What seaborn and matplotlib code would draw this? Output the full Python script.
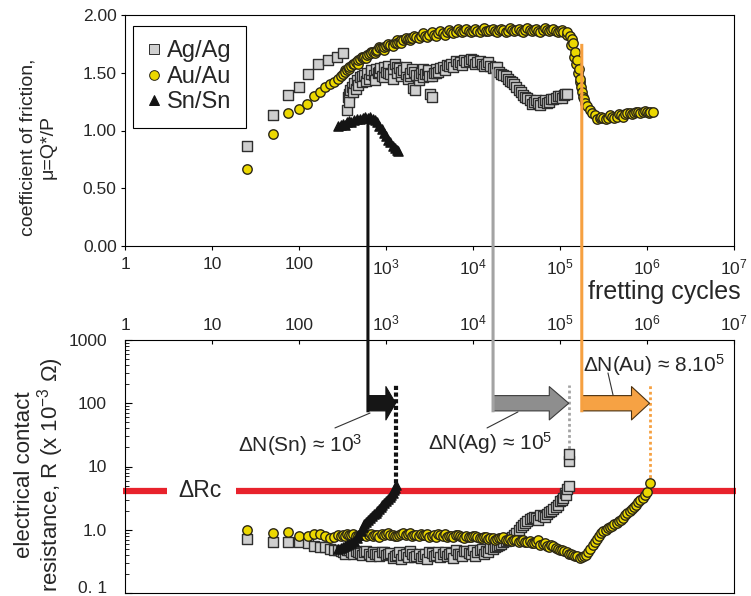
import matplotlib
matplotlib.use("Agg")
import matplotlib.pyplot as plt
import pandas as pd
import seaborn as sns
from matplotlib.patches import ConnectionPatch, FancyArrowPatch
from matplotlib.lines import Line2D
from matplotlib.ticker import FixedLocator, FixedFormatter, LogLocator, NullLocator, NullFormatter

# ---------------- data ----------------
pairs = ["Ag/Ag", "Au/Au", "Sn/Sn"]

# coefficient of friction vs fretting cycles (two interleaved acquisition passes per couple)
ag_mu_cycles = [25, 50, 75, 100, 126, 167, 218, 270, 323, 355, 365, 375, 390, 410, 430, 450, 470, 500,
                530, 560, 600, 630, 680, 720, 760, 800, 850, 900, 950, 1000, 1060, 1120, 1190, 1260,
                1340, 1410, 1500, 1580, 1680, 1780, 1890, 2000, 2050, 2150, 2240, 2370, 2510, 2660,
                2820, 3000, 3160, 3200, 3400, 3550, 3760, 3980, 4470, 5010, 5620, 6310, 7080, 7940,
                8910, 10000, 11200, 12600, 14100, 15800, 17800, 20000, 22400, 25100, 28200, 31600,
                35500, 39800, 44700, 50100, 56200, 63100, 70800, 79400, 89100, 100000, 112000, 120000]
ag_mu = [0.87, 1.13, 1.31, 1.38, 1.49, 1.58, 1.61, 1.64, 1.67, 1.18, 1.29, 1.32, 1.35, 1.38, 1.41, 1.36,
         1.44, 1.46, 1.42, 1.48, 1.50, 1.45, 1.52, 1.48, 1.53, 1.50, 1.54, 1.47, 1.55, 1.51, 1.56, 1.49,
         1.53, 1.58, 1.50, 1.54, 1.47, 1.52, 1.49, 1.45, 1.50, 1.53, 1.37, 1.35, 1.48, 1.44, 1.50, 1.46,
         1.49, 1.52, 1.47, 1.32, 1.29, 1.50, 1.53, 1.51, 1.55, 1.57, 1.58, 1.60, 1.59, 1.61, 1.60, 1.61,
         1.59, 1.58, 1.58, 1.56, 1.55, 1.51, 1.48, 1.45, 1.42, 1.38, 1.33, 1.29, 1.26, 1.25, 1.24, 1.25,
         1.24, 1.27, 1.28, 1.30, 1.31, 1.32]
ag_mu_cycles_b = [376, 422, 473, 531, 596, 668, 750, 841, 944, 1060, 1190, 1330, 1500, 1680, 1880, 2110,
                  2370, 2660, 2990, 3350, 3760, 4220, 4730, 5310, 5960, 6680, 7500, 8410, 9440, 10600,
                  11900, 13300, 15000, 16800, 18800, 21100, 23700, 26600, 29900, 33500, 37600, 42200,
                  47300, 53100, 59600, 66800, 75000, 84100, 94400, 106000, 115000]
ag_mu_b = [1.25, 1.33, 1.39, 1.47, 1.43, 1.49, 1.44, 1.51, 1.46, 1.50, 1.45, 1.55, 1.51, 1.55, 1.47, 1.51,
           1.48, 1.53, 1.49, 1.47, 1.50, 1.54, 1.52, 1.56, 1.55, 1.58, 1.57, 1.59, 1.62, 1.58, 1.60, 1.56,
           1.59, 1.54, 1.55, 1.49, 1.47, 1.43, 1.40, 1.35, 1.31, 1.28, 1.23, 1.26, 1.22, 1.26, 1.25, 1.27,
           1.30, 1.28, 1.32]

au_mu_cycles = [25, 50, 75, 100, 125, 150, 175, 200, 225, 250, 280, 300, 320, 340, 355, 380, 400, 430,
                450, 480, 500, 540, 560, 600, 630, 680, 710, 760, 790, 850, 890, 950, 1000, 1060, 1120,
                1190, 1260, 1340, 1410, 1500, 1580, 1680, 1780, 1890, 2000, 2240, 2510, 2820, 3160,
                3550, 3980, 4470, 5010, 5620, 6310, 7080, 7940, 8910, 10000, 11200, 12600, 14100, 15800,
                17800, 20000, 22400, 25100, 28200, 31600, 35500, 39800, 44700, 50100, 56200, 63100,
                70800, 79400, 89100, 100000, 107000, 120000, 132000, 138000, 141000, 150000, 158000,
                166000, 170000, 174000, 182000, 195000, 219000, 251000, 288000, 316000, 355000, 398000,
                447000, 501000, 562000, 631000, 708000, 794000, 891000, 1000000, 1070000, 1170000]
au_mu = [0.67, 0.97, 1.15, 1.19, 1.23, 1.30, 1.33, 1.38, 1.40, 1.42, 1.45, 1.47, 1.49, 1.51, 1.52, 1.55,
         1.56, 1.58, 1.59, 1.61, 1.62, 1.63, 1.64, 1.65, 1.66, 1.67, 1.68, 1.69, 1.70, 1.71, 1.71, 1.72,
         1.73, 1.74, 1.74, 1.75, 1.76, 1.76, 1.77, 1.78, 1.78, 1.79, 1.79, 1.80, 1.80, 1.81, 1.82, 1.82,
         1.83, 1.83, 1.84, 1.84, 1.85, 1.85, 1.85, 1.86, 1.86, 1.86, 1.86, 1.86, 1.87, 1.86, 1.87, 1.86,
         1.87, 1.87, 1.86, 1.87, 1.87, 1.86, 1.87, 1.87, 1.87, 1.86, 1.87, 1.87, 1.87, 1.86, 1.86, 1.85,
         1.85, 1.82, 1.79, 1.76, 1.68, 1.61, 1.53, 1.45, 1.38, 1.29, 1.24, 1.18, 1.13, 1.11, 1.11, 1.11,
         1.12, 1.12, 1.13, 1.14, 1.15, 1.15, 1.16, 1.16, 1.16, 1.16, 1.16]
au_mu_cycles_b = [335, 376, 422, 473, 531, 596, 668, 750, 841, 944, 1060, 1190, 1330, 1500, 1680, 1880,
                  2110, 2370, 2660, 2990, 3350, 3760, 4220, 4730, 5310, 5960, 6680, 7500, 8410, 9440,
                  10600, 11900, 13300, 15000, 16800, 18800, 21100, 23700, 26600, 29900, 33500, 37600,
                  42200, 47300, 53100, 59600, 66800, 75000, 84100, 94400, 106000, 119000, 135000,
                  145000, 154000, 162000, 168000, 178000, 188000, 205000, 235000, 266000, 299000,
                  335000, 376000, 422000, 473000, 531000, 596000, 668000, 750000, 841000, 944000,
                  1060000]
au_mu_b = [1.52, 1.53, 1.58, 1.58, 1.64, 1.63, 1.68, 1.67, 1.72, 1.70, 1.75, 1.73, 1.78, 1.76, 1.80, 1.78,
           1.82, 1.80, 1.84, 1.81, 1.85, 1.82, 1.86, 1.83, 1.87, 1.84, 1.88, 1.85, 1.88, 1.85, 1.88, 1.85,
           1.89, 1.86, 1.88, 1.85, 1.88, 1.85, 1.89, 1.86, 1.88, 1.85, 1.89, 1.86, 1.88, 1.85, 1.89, 1.86,
           1.88, 1.85, 1.87, 1.83, 1.74, 1.64, 1.58, 1.50, 1.42, 1.33, 1.27, 1.21, 1.15, 1.10, 1.12, 1.10,
           1.13, 1.11, 1.14, 1.12, 1.15, 1.14, 1.16, 1.15, 1.17, 1.15]

sn_mu_cycles = [280, 300, 320, 340, 360, 380, 400, 430, 460, 500, 540, 580, 620, 660, 700, 740, 790,
                840, 890, 950, 1000, 1060, 1120, 1190, 1260, 1330, 1370]
sn_mu = [1.04, 1.05, 1.06, 1.05, 1.07, 1.08, 1.07, 1.09, 1.10, 1.10, 1.11, 1.12, 1.11, 1.12, 1.10, 1.09,
         1.07, 1.04, 1.01, 0.98, 0.95, 0.92, 0.90, 0.87, 0.85, 0.83, 0.82]

# electrical contact resistance (x 10^-3 ohm) vs fretting cycles
ag_r_cycles = [25, 50, 75, 100, 126, 150, 175, 200, 225, 250, 280, 300, 320, 355, 400, 450, 500, 560,
               630, 710, 790, 890, 1000, 1120, 1260, 1410, 1580, 1780, 2000, 2240, 2510, 2820, 3160,
               3550, 3980, 4470, 5010, 5620, 6310, 7080, 7940, 8910, 10000, 11200, 12600, 14100, 15800,
               17800, 20000, 22400, 25100, 28200, 31600, 35500, 39800, 44700, 50100, 56200, 63100,
               70800, 79400, 89100, 100000, 107000, 115000, 120000, 126000, 126000, 126000]
ag_r = [0.72, 0.63, 0.63, 0.63, 0.62, 0.56, 0.54, 0.53, 0.50, 0.48, 0.48, 0.46, 0.45, 0.47, 0.44, 0.46,
        0.43, 0.45, 0.42, 0.44, 0.41, 0.44, 0.40, 0.43, 0.39, 0.44, 0.40, 0.37, 0.42, 0.38, 0.36, 0.41,
        0.44, 0.39, 0.45, 0.41, 0.38, 0.43, 0.47, 0.42, 0.46, 0.43, 0.48, 0.44, 0.49, 0.46, 0.51, 0.54,
        0.58, 0.63, 0.70, 0.78, 0.90, 1.10, 1.30, 1.50, 1.60, 1.45, 1.65, 1.80, 2.00, 2.30, 2.80, 3.20,
        3.80, 4.40, 5.00, 12.0, 16.0]
ag_r_cycles_b = [335, 376, 422, 473, 531, 596, 668, 750, 841, 944, 1060, 1190, 1330, 1500, 1680, 1880,
                 2110, 2370, 2660, 2990, 3350, 3760, 4220, 4730, 5310, 5960, 6680, 7500, 8410, 9440,
                 10600, 11900, 13300, 15000, 16800, 18800, 21100, 23700, 26600, 29900, 33500, 37600,
                 42200, 47300, 53100, 59600, 66800, 75000, 84100, 94400, 106000, 118000]
ag_r_b = [0.42, 0.48, 0.41, 0.44, 0.40, 0.46, 0.39, 0.42, 0.38, 0.45, 0.41, 0.36, 0.40, 0.35, 0.41, 0.46,
          0.37, 0.42, 0.39, 0.34, 0.43, 0.40, 0.37, 0.45, 0.42, 0.36, 0.41, 0.38, 0.46, 0.42, 0.39, 0.47,
          0.41, 0.45, 0.50, 0.55, 0.60, 0.66, 0.74, 0.84, 1.00, 1.20, 1.40, 1.55, 1.52, 1.70, 1.60, 1.90,
          2.10, 2.50, 3.00, 3.60]

au_r_cycles = [25, 50, 75, 100, 126, 150, 175, 200, 225, 250, 280, 300, 320, 355, 400, 450, 500, 560,
               630, 710, 790, 890, 1000, 1120, 1260, 1410, 1580, 1780, 2000, 2240, 2510, 2820, 3160,
               3550, 3980, 4470, 5010, 5620, 6310, 7080, 7940, 8910, 10000, 11200, 12600, 14100, 15800,
               17800, 20000, 22400, 25100, 28200, 31600, 35500, 39800, 44700, 50100, 56200, 63100,
               70800, 79400, 89100, 100000, 112000, 126000, 141000, 158000, 178000, 200000, 224000,
               251000, 282000, 316000, 355000, 398000, 447000, 501000, 562000, 631000, 708000, 794000,
               891000, 1000000, 1070000]
au_r = [1.00, 0.89, 0.91, 0.80, 0.80, 0.86, 0.86, 0.80, 0.75, 0.78, 0.83, 0.80, 0.82, 0.85, 0.83, 0.80,
        0.82, 0.86, 0.84, 0.80, 0.83, 0.87, 0.85, 0.82, 0.80, 0.84, 0.88, 0.85, 0.80, 0.83, 0.86, 0.82,
        0.78, 0.82, 0.85, 0.80, 0.76, 0.80, 0.84, 0.79, 0.75, 0.78, 0.80, 0.76, 0.73, 0.77, 0.74, 0.70,
        0.73, 0.76, 0.70, 0.67, 0.70, 0.66, 0.63, 0.66, 0.62, 0.70, 0.60, 0.56, 0.58, 0.52, 0.48, 0.46,
        0.42, 0.40, 0.38, 0.37, 0.40, 0.50, 0.65, 0.80, 0.95, 1.05, 1.15, 1.30, 1.45, 1.70, 2.00, 2.30,
        2.70, 3.20, 3.90, 5.50]
au_r_cycles_b = [335, 376, 422, 473, 531, 596, 668, 750, 841, 944, 1060, 1190, 1330, 1500, 1680, 1880,
                 2110, 2370, 2660, 2990, 3350, 3760, 4220, 4730, 5310, 5960, 6680, 7500, 8410, 9440,
                 10600, 11900, 13300, 15000, 16800, 18800, 21100, 23700, 26600, 29900, 33500, 37600,
                 42200, 47300, 53100, 59600, 66800, 75000, 84100, 94400, 106000, 119000, 133000,
                 150000, 168000, 188000, 211000, 237000, 266000, 299000, 335000, 376000, 422000,
                 473000, 531000, 596000, 668000, 750000, 841000, 944000]
au_r_b = [0.79, 0.84, 0.86, 0.79, 0.84, 0.81, 0.87, 0.82, 0.78, 0.84, 0.88, 0.83, 0.79, 0.86, 0.82, 0.88,
          0.84, 0.79, 0.83, 0.87, 0.81, 0.77, 0.82, 0.86, 0.81, 0.78, 0.82, 0.77, 0.81, 0.76, 0.79, 0.75,
          0.78, 0.72, 0.75, 0.71, 0.74, 0.69, 0.72, 0.68, 0.65, 0.68, 0.64, 0.61, 0.65, 0.58, 0.62, 0.54,
          0.56, 0.50, 0.47, 0.44, 0.41, 0.39, 0.36, 0.38, 0.44, 0.57, 0.72, 0.88, 1.00, 1.10, 1.22, 1.38,
          1.55, 1.85, 2.15, 2.50, 2.95, 3.50]

sn_r_cycles = [280, 300, 320, 340, 360, 380, 400, 430, 460, 480, 510, 540, 560, 590, 620, 660, 690, 720,
               760, 790, 830, 870, 910, 950, 1000, 1050, 1100, 1150, 1200, 1230, 1260, 1290]
sn_r = [0.50, 0.51, 0.53, 0.55, 0.57, 0.60, 0.62, 0.67, 0.73, 0.82, 0.95, 1.10, 1.25, 1.35, 1.42, 1.55,
        1.65, 1.75, 1.85, 1.95, 2.10, 2.30, 2.50, 2.65, 2.85, 3.05, 3.30, 3.55, 3.85, 4.20, 4.60, 5.10]

# critical resistance threshold and the endurance arrows
delta_rc = 4.1
arrow_level = 100
arrow_start = {"Sn/Sn": 620, "Ag/Ag": 17000, "Au/Au": 178000}
arrow_end = {"Sn/Sn": 1290, "Ag/Ag": 126000, "Au/Au": 1070000}
arrow_from_mu = {"Sn/Sn": 1.11, "Ag/Ag": 1.53, "Au/Au": 1.75}
failure_r = {"Sn/Sn": 4.3, "Ag/Ag": 16.0, "Au/Au": 5.5}
arrow_labels = {"Sn/Sn": r"ΔN(Sn) ≈ 10$^3$", "Ag/Ag": r"ΔN(Ag) ≈ 10$^5$", "Au/Au": r"ΔN(Au) ≈ 8.10$^5$"}

decade_ticks = [1, 10, 100, 1e3, 1e4, 1e5, 1e6, 1e7]
decade_labels = ["1", "10", "100", r"10$^3$", r"10$^4$", r"10$^5$", r"10$^6$", r"10$^7$"]
mu_ticks = [0.0, 0.5, 1.0, 1.5, 2.0]
mu_labels = ["0.00", "0.50", "1.00", "1.50", "2.00"]
r_ticks = [0.1, 1, 10, 100, 1000]
r_labels = ["0. 1", "1.0", "10", "100", "1000"]

# ---------------- style ----------------
sns.set_theme(style="white")
plt.rcParams["font.family"] = ["Liberation Sans", "DejaVu Sans"]
plt.rcParams["mathtext.fontset"] = "custom"
plt.rcParams["mathtext.rm"] = "Liberation Sans"
plt.rcParams["mathtext.it"] = "Liberation Sans:italic"
plt.rcParams["mathtext.bf"] = "Liberation Sans:bold"

txt = "#262626"
look = {
    "Ag/Ag": dict(marker="s", color="#cfcfcf", edgecolor="#2e2e2e", s=44, zorder=3),
    "Au/Au": dict(marker="o", color="#ecd800", edgecolor="#2b2717", s=46, zorder=4),
    "Sn/Sn": dict(marker="^", color="#141414", edgecolor="#141414", s=44, zorder=5),
}
arrow_fill = {"Sn/Sn": "#161616", "Ag/Ag": "#8e8e8e", "Au/Au": "#f6a244"}
arrow_edge = {"Sn/Sn": "#111111", "Ag/Ag": "#3c3c3c", "Au/Au": "#4a3010"}
link_color = {"Sn/Sn": "#111111", "Ag/Ag": "#a3a3a3", "Au/Au": "#f6a040"}
head_len = {"Sn/Sn": 7, "Ag/Ag": 14, "Au/Au": 13}


def frame_of(cycles, values, pair):
    return pd.DataFrame({"cycles": cycles, "value": values, "pair": pair})


mu_df = pd.concat([
    frame_of(ag_mu_cycles, ag_mu, "Ag/Ag"), frame_of(ag_mu_cycles_b, ag_mu_b, "Ag/Ag"),
    frame_of(au_mu_cycles, au_mu, "Au/Au"), frame_of(au_mu_cycles_b, au_mu_b, "Au/Au"),
    frame_of(sn_mu_cycles, sn_mu, "Sn/Sn"),
]).sort_values("cycles", kind="stable")
r_df = pd.concat([
    frame_of(ag_r_cycles, ag_r, "Ag/Ag"), frame_of(ag_r_cycles_b, ag_r_b, "Ag/Ag"),
    frame_of(au_r_cycles, au_r, "Au/Au"), frame_of(au_r_cycles_b, au_r_b, "Au/Au"),
    frame_of(sn_r_cycles, sn_r, "Sn/Sn"),
]).sort_values("cycles", kind="stable")

W, H = 751, 596
fig = plt.figure(figsize=(W / 100, H / 100), dpi=100)


def frame(l, t, r, b):
    return [l / W, 1 - b / H, (r - l) / W, (b - t) / H]


ax_mu = fig.add_axes(frame(125, 15, 734, 246))
ax_r = fig.add_axes(frame(125, 340, 734, 593))

for ax, df in ((ax_mu, mu_df), (ax_r, r_df)):
    for p in pairs:
        st = look[p]
        sns.scatterplot(data=df[df["pair"] == p], x="cycles", y="value", ax=ax,
                        marker=st["marker"], color=st["color"], edgecolor=st["edgecolor"],
                        s=st["s"], linewidth=1.0, zorder=st["zorder"], legend=False)
    ax.set_xscale("log")
    ax.set_xlim(1, 1e7)
    ax.set_xlabel("")
    ax.set_ylabel("")
    for sp in ax.spines.values():
        sp.set_visible(True)
        sp.set_color("black")
        sp.set_linewidth(0.8)

# friction panel
ax_mu.set_ylim(0, 2)
ax_mu.xaxis.set_major_locator(FixedLocator(decade_ticks))
ax_mu.xaxis.set_major_formatter(FixedFormatter(decade_labels))
ax_mu.xaxis.set_minor_locator(NullLocator())
ax_mu.yaxis.set_major_locator(FixedLocator(mu_ticks))
ax_mu.yaxis.set_major_formatter(FixedFormatter(mu_labels))
ax_mu.tick_params(axis="both", which="major", direction="out", length=3, width=0.8,
                  color="black", labelsize=12.5, labelcolor=txt, bottom=True, left=True)
ax_mu.tick_params(axis="x", pad=5)
ax_mu.tick_params(axis="y", pad=3)

leg_handles = [Line2D([], [], ls="", marker=look[p]["marker"], mfc=look[p]["color"],
                      mec=look[p]["edgecolor"], mew=0.7, ms=7) for p in pairs]
leg = ax_mu.legend(leg_handles, pairs, loc="upper left", bbox_to_anchor=(0.013, 0.952),
                   fontsize=17, frameon=True, fancybox=False, edgecolor="black", framealpha=1,
                   handlelength=0.6, handletextpad=0.25, borderpad=0.6, labelspacing=0.15,
                   borderaxespad=0)
leg.get_frame().set_linewidth(0.8)
for t in leg.get_texts():
    t.set_color(txt)

# resistance panel
ax_r.set_yscale("log")
ax_r.set_ylim(0.1, 1000)
ax_r.xaxis.tick_top()
ax_r.xaxis.set_major_locator(FixedLocator(decade_ticks))
ax_r.xaxis.set_major_formatter(FixedFormatter(decade_labels))
ax_r.xaxis.set_minor_locator(NullLocator())
ax_r.yaxis.set_major_locator(FixedLocator(r_ticks))
ax_r.yaxis.set_major_formatter(FixedFormatter(r_labels))
ax_r.yaxis.set_minor_locator(LogLocator(base=10, subs=[2, 3, 4, 5, 6, 7, 8, 9]))
ax_r.yaxis.set_minor_formatter(NullFormatter())
ax_r.tick_params(axis="x", which="major", direction="in", length=3, width=0.8, color="black",
                 top=True, bottom=False, labeltop=True, labelbottom=False, labelsize=12.5,
                 labelcolor=txt, pad=5)
ax_r.tick_params(axis="y", which="major", direction="in", length=5, width=0.8, color="black",
                 left=True, labelsize=12.5, labelcolor=txt, pad=13)
ax_r.tick_params(axis="y", which="minor", direction="in", length=3, width=0.6, color="black", left=True)
# lowest label sits on its baseline so it stays inside the figure
ax_r.yaxis.get_major_ticks()[0].label1.set_verticalalignment("baseline")

# critical resistance line with its label in a gap
ax_r.plot([0.95, 3.04], [delta_rc, delta_rc], color="#e8222c", lw=4.5, solid_capstyle="butt",
          clip_on=False, zorder=1.5)
ax_r.plot([18.9, 1.06e7], [delta_rc, delta_rc], color="#e8222c", lw=4.5, solid_capstyle="butt",
          clip_on=False, zorder=1.5)
ax_r.text(7.3, delta_rc, "ΔRc", fontsize=16.5, color=txt, ha="center", va="center")

# endurance: link from friction curve, arrow to failure, dotted drop to threshold
label_pos = {"Sn/Sn": (20, 22), "Ag/Ag": (3000, 23.6), "Au/Au": (184000, 403)}
leader = {"Sn/Sn": ([259, 655], [40.7, 70]), "Ag/Ag": ([14500, 32900], [40.7, 73]),
          "Au/Au": ([356000, 407000], [301, 135])}
dots = {"Sn/Sn": dict(lw=3.0, ls=(0, (1, 0.6))), "Ag/Ag": dict(lw=2.0, ls=(0, (1, 1))),
        "Au/Au": dict(lw=2.0, ls=(0, (1, 1)))}
for p in ["Sn/Sn", "Ag/Ag", "Au/Au"]:
    x0 = arrow_start[p]
    con = ConnectionPatch(xyA=(x0, arrow_from_mu[p]), coordsA=ax_mu.transData,
                          xyB=(x0, 72), coordsB=ax_r.transData,
                          color=link_color[p], lw=2.2, capstyle="butt", zorder=6)
    fig.add_artist(con)
    ax_r.plot([arrow_end[p], arrow_end[p]], [failure_r[p], 195], color=link_color[p],
              lw=dots[p]["lw"], ls=dots[p]["ls"], zorder=2.5)
    arr = FancyArrowPatch(posA=(x0, arrow_level), posB=(arrow_end[p], arrow_level),
                          arrowstyle=f"simple,head_length={head_len[p]},head_width=24,tail_width=11",
                          mutation_scale=1, shrinkA=0, shrinkB=0, fc=arrow_fill[p],
                          ec=arrow_edge[p], lw=0.8, zorder=7)
    ax_r.add_patch(arr)
    lx, ly = leader[p]
    ax_r.plot(lx, ly, color="#333333", lw=0.8, zorder=6)
    tx, ty = label_pos[p]
    ax_r.text(tx, ty, arrow_labels[p], fontsize=15, color=txt, ha="left", va="center", zorder=8)

fig.text(588 / W, 1 - 292 / H, "fretting cycles", fontsize=18, color=txt, ha="left", va="center")
fig.text(38 / W, 1 - 147 / H, "coefficient of friction,\nμ=Q*/P", rotation=90, fontsize=14,
         color=txt, ha="center", va="center", multialignment="center", linespacing=1.2)
fig.text(40 / W, 1 - 475 / H, "electrical contact\nresistance, R (x 10$^{-3}$ Ω)", rotation=90,
         fontsize=16, color=txt, ha="center", va="center", multialignment="center", linespacing=1.0)

fig.savefig("out.png", dpi=100)
